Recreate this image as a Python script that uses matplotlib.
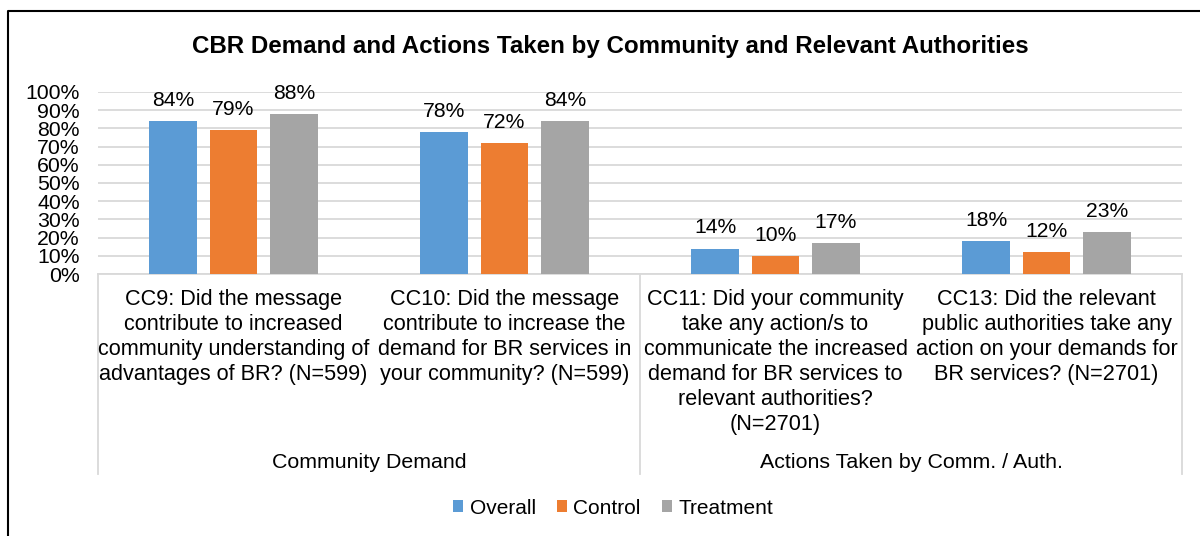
import numpy as np
import matplotlib.pyplot as plt
from matplotlib.lines import Line2D

plt.rcParams['font.family'] = ['Liberation Sans', 'DejaVu Sans']

# Survey results (share of respondents answering yes)
questions = [
    "CC9: Did the message\ncontribute to increased\ncommunity understanding of\nadvantages of BR? (N=599)",
    "CC10: Did the message\ncontribute to increase the\ndemand for BR services in\nyour community? (N=599)",
    "CC11: Did your community\ntake any action/s to\ncommunicate the increased\ndemand for BR services to\nrelevant authorities?\n(N=2701)",
    "CC13: Did the relevant\npublic authorities take any\naction on your demands for\nBR services? (N=2701)",
]
groups = ["Community Demand", "Actions Taken by Comm. / Auth."]
group_sizes = [2, 2]
series = ["Overall", "Control", "Treatment"]
overall = [0.84, 0.78, 0.14, 0.18]
control = [0.79, 0.72, 0.10, 0.12]
treatment = [0.88, 0.84, 0.17, 0.23]
colors = ["#5B9BD5", "#ED7D31", "#A5A5A5"]

W, H = 1200, 536
fig = plt.figure(figsize=(W / 100, H / 100), dpi=100)
ax = fig.add_axes([98 / W, 1 - 274 / H, (1182 - 98) / W, (274 - 92) / H])

x = np.arange(len(questions))
width = 0.174
step = 0.223
for k, (vals, col, name) in enumerate(zip([overall, control, treatment], colors, series)):
    bars = ax.bar(x + (k - 1) * step, vals, width, color=col, label=name, zorder=3)
    for b, v in zip(bars, vals):
        ax.annotate(f"{v:.0%}", (b.get_x() + b.get_width() / 2, v),
                    xytext=(0, 8), textcoords="offset points",
                    ha="center", va="bottom", fontsize=15.2, color="#000000")

ax.set_xlim(-0.5, len(questions) - 0.5)
ax.set_ylim(0, 1)
ax.set_yticks(np.arange(0, 1.01, 0.1))
ax.set_yticklabels([f"{int(round(t * 100))}%" for t in np.arange(0, 1.01, 0.1)])
ax.tick_params(axis="y", length=0, labelsize=15.3, pad=13)
ax.tick_params(axis="x", length=0, labelbottom=False)
ax.grid(axis="y", color="#D9D9D9", linewidth=1.3, zorder=0)
for s in ["top", "right", "left"]:
    ax.spines[s].set_visible(False)
ax.spines["bottom"].set_color("#D9D9D9")
ax.spines["bottom"].set_linewidth(1.3)

# two-level category axis below the plot
trans = ax.get_xaxis_transform()
for i, q in enumerate(questions):
    ax.text(i, -0.085, q, transform=trans, ha="center", va="top",
            fontsize=15.6, linespacing=1.24)

bounds = np.concatenate([[0], np.cumsum(group_sizes)]) - 0.5
axis_drop = -(474 - 274) / (274 - 92)
for b in bounds:
    ax.add_line(Line2D([b, b], [0, axis_drop], transform=trans, color="#D9D9D9",
                       linewidth=1.3, clip_on=False))
for g, lo, hi in zip(groups, bounds[:-1], bounds[1:]):
    ax.text((lo + hi) / 2, -(462 - 274) / (274 - 92), g, transform=trans,
            ha="center", va="center", fontsize=15.4)

fig.text(610 / W, 1 - 46 / H,
         "CBR Demand and Actions Taken by Community and Relevant Authorities",
         fontsize=17.4, fontweight="bold", ha="center", va="center")

fig.legend(loc="center", bbox_to_anchor=(613 / W, 1 - 508 / H), ncol=3, frameon=False,
           fontsize=15, handlelength=0.5, handleheight=0.5, handletextpad=0.3,
           columnspacing=1.0)

# chart border (top and left edges visible)
fig.add_artist(Line2D([8 / W, 8 / W, 1], [0, 1 - 11 / H, 1 - 11 / H],
                      transform=fig.transFigure, color="#000000", linewidth=1.5))

fig.savefig("out.png", dpi=100)
